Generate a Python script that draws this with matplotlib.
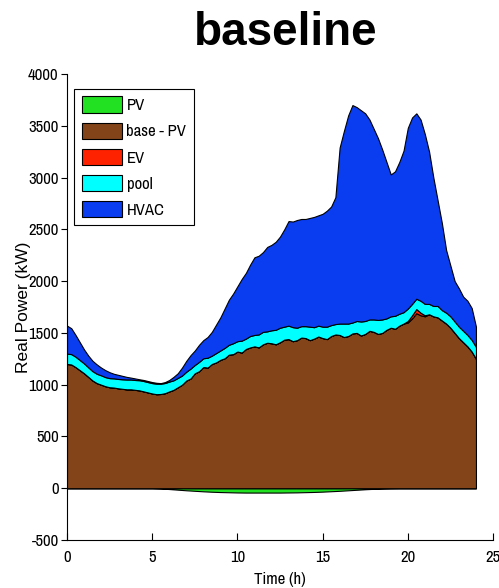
import numpy as np
import matplotlib
matplotlib.use("Agg")
import matplotlib.pyplot as plt
from matplotlib.patches import Patch

plt.rcParams['font.family'] = ['Archivo Narrow', 'Liberation Sans', 'DejaVu Sans']
plt.rcParams['axes.unicode_minus'] = False

# quarter-hour grid for the stacked loads
t = np.arange(0, 24.25, 0.25)
# half-hour grid for PV
t_pv = np.arange(0, 24.5, 0.5)

base_pv = [1200, 1195, 1170, 1140, 1110, 1075, 1040, 1015, 1000, 985,
           975, 972, 965, 960, 955, 955, 950, 945, 935, 925,
           915, 908, 910, 918, 935, 950, 975, 1000, 1040, 1060,
           1110, 1130, 1170, 1165, 1200, 1215, 1240, 1255, 1290, 1295,
           1320, 1310, 1345, 1360, 1370, 1360, 1390, 1405, 1400, 1390,
           1410, 1435, 1440, 1420, 1430, 1455, 1450, 1430, 1445, 1465,
           1450, 1440, 1470, 1485, 1480, 1460, 1470, 1495, 1500, 1475,
           1490, 1520, 1510, 1490, 1500, 1530, 1550, 1540, 1570, 1590,
           1600, 1640, 1690, 1670, 1660, 1680, 1660, 1650, 1620, 1590,
           1550, 1500, 1450, 1410, 1370, 1320, 1250]

ev = [0]*80 + [15, 30, 40, 25, 10] + [0]*12

pool = [100, 100, 100, 98, 95, 92, 90, 90, 90, 88,
        88, 89, 90, 92, 95, 95, 95, 98, 100, 100,
        100, 102, 100, 98, 95, 92, 90, 88, 85, 95,
        80, 90, 85, 95, 80, 90, 90, 100, 95, 105,
        100, 115, 100, 110, 110, 125, 120, 110, 125, 140,
        140, 125, 130, 135, 120, 110, 115, 130, 110, 105,
        110, 120, 105, 100, 110, 130, 120, 105, 115, 135,
        125, 110, 120, 135, 130, 110, 110, 125, 115, 110,
        120, 110, 100, 115, 110, 100, 100, 110, 100, 105,
        110, 110, 110, 110, 110, 112, 115]

# top of the HVAC layer (total load)
total = [1570, 1545, 1480, 1410, 1340, 1280, 1230, 1195, 1165, 1140,
         1120, 1105, 1095, 1085, 1075, 1068, 1060, 1052, 1045, 1035,
         1025, 1018, 1015, 1025, 1045, 1075, 1110, 1165, 1230, 1285,
         1330, 1385, 1430, 1460, 1510, 1580, 1650, 1735, 1820, 1880,
         1950, 2020, 2080, 2160, 2230, 2245, 2280, 2330, 2350, 2380,
         2430, 2500, 2580, 2575, 2590, 2600, 2600, 2610, 2620, 2635,
         2650, 2680, 2720, 2810, 3290, 3450, 3600, 3700, 3680, 3650,
         3620, 3560, 3470, 3380, 3270, 3150, 3030, 3060, 3150, 3260,
         3480, 3580, 3620, 3560, 3420, 3250, 3000, 2780, 2560, 2300,
         2150, 2000, 1930, 1850, 1810, 1740, 1560]

pv = [0]*11 + [-3, -8, -14, -20, -25, -30, -34, -37, -39,
               -41, -42, -42, -42, -42, -42, -41, -40, -38, -36,
               -33, -29, -25, -20, -15, -10, -6, -3, -1] + [0]*10

labels = ['PV', 'base - PV', 'EV', 'pool', 'HVAC']
colors = ['#22e022', '#84441a', '#ff2200', '#00ffff', '#0a3cf0']

base_pv = np.array(base_pv)
ev = np.array(ev)
pool = np.array(pool)
hvac = np.clip(np.array(total) - base_pv - ev - pool, 0, None)
pv = np.array(pv)

fig = plt.figure(figsize=(4.99, 5.88), dpi=100)
ax = fig.add_axes([67/499, 1-540/588, (493-67)/499, (540-74)/588])

ax.fill_between(t_pv, pv, 0, facecolor=colors[0], edgecolor='k', linewidth=0.8)
ax.stackplot(t, base_pv, ev, pool, hvac, colors=colors[1:],
             edgecolor='k', linewidth=0.8)

ax.set_xlim(0, 25)
ax.set_ylim(-500, 4000)
ax.set_xticks(np.arange(0, 26, 5))
ax.set_yticks(np.arange(-500, 4001, 500))
ax.spines['top'].set_visible(False)
ax.spines['right'].set_visible(False)
ax.tick_params(axis='x', direction='in', length=5, labelsize=12, pad=7)
ax.tick_params(axis='y', direction='out', length=4, labelsize=12, pad=2)
ax.set_xlabel('Time (h)', fontsize=12, labelpad=5)
ax.set_ylabel('Real Power (kW)', fontsize=12.5, family='Liberation Sans')
ax.yaxis.set_label_coords(-0.085, 0.5)

fig.text(286/499, 1-45/588, 'baseline', ha='center', va='baseline',
         fontsize=33, fontweight='bold', family='Liberation Sans')

handles = [Patch(facecolor=c, edgecolor='k', linewidth=0.8) for c in colors]
leg = ax.legend(handles, labels, loc='upper left',
                bbox_to_anchor=(74/499, 1-89/588), bbox_transform=fig.transFigure,
                borderaxespad=0, fancybox=False, framealpha=1, fontsize=12,
                handlelength=2.4, handleheight=1.15, labelspacing=0.55,
                handletextpad=0.3, borderpad=0.45)
leg.get_frame().set_edgecolor('k')
leg.get_frame().set_linewidth(0.8)

fig.savefig('out.png', dpi=100)
